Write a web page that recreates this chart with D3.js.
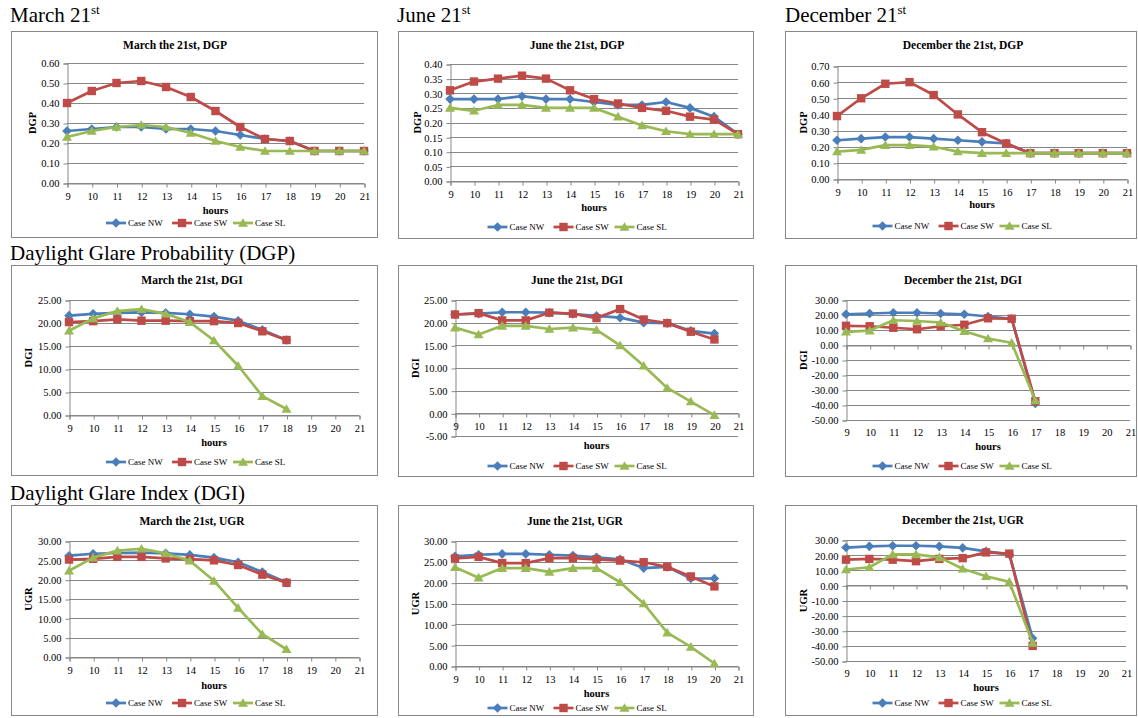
<!DOCTYPE html>
<html lang="en">
<head>
<meta charset="utf-8">
<title>DGP / DGI / UGR</title>
<script src="https://cdn.jsdelivr.net/npm/d3@7"></script>
<style>
  body { margin: 0; background: #fff; }
  svg text { font-family: "Liberation Serif", "Times New Roman", serif; fill: #000; }
</style>
</head>
<body>
<div id="viz"></div>
<script>
// ---- data ----
const hours = [9, 10, 11, 12, 13, 14, 15, 16, 17, 18, 19, 20, 21];
const caseNames = ["Case NW", "Case SW", "Case SL"];

const marchDGP_NW = [0.26, 0.27, 0.28, 0.28, 0.27, 0.27, 0.26, 0.24, 0.22, 0.21, 0.16, 0.16, 0.16];
const marchDGP_SW = [0.40, 0.46, 0.50, 0.51, 0.48, 0.43, 0.36, 0.28, 0.22, 0.21, 0.16, 0.16, 0.16];
const marchDGP_SL = [0.23, 0.26, 0.28, 0.29, 0.28, 0.25, 0.21, 0.18, 0.16, 0.16, 0.16, 0.16, 0.16];

const juneDGP_NW = [0.28, 0.28, 0.28, 0.29, 0.28, 0.28, 0.27, 0.26, 0.26, 0.27, 0.25, 0.22, 0.16];
const juneDGP_SW = [0.31, 0.34, 0.35, 0.36, 0.35, 0.31, 0.28, 0.265, 0.25, 0.24, 0.22, 0.21, 0.16];
const juneDGP_SL = [0.25, 0.24, 0.26, 0.26, 0.25, 0.25, 0.25, 0.22, 0.19, 0.17, 0.16, 0.16, 0.16];

const decDGP_NW = [0.24, 0.25, 0.26, 0.26, 0.25, 0.24, 0.23, 0.22, 0.16, 0.16, 0.16, 0.16, 0.16];
const decDGP_SW = [0.39, 0.50, 0.59, 0.60, 0.52, 0.40, 0.29, 0.22, 0.16, 0.16, 0.16, 0.16, 0.16];
const decDGP_SL = [0.17, 0.18, 0.21, 0.21, 0.20, 0.17, 0.16, 0.16, 0.16, 0.16, 0.16, 0.16, 0.16];

const marchDGI_NW = [21.6, 22.0, 22.2, 22.3, 22.2, 21.9, 21.4, 20.5, 18.5, 16.3];
const marchDGI_SW = [20.2, 20.4, 20.8, 20.5, 20.5, 20.4, 20.4, 20.0, 18.2, 16.3];
const marchDGI_SL = [18.3, 21.0, 22.6, 23.0, 22.0, 20.2, 16.2, 10.7, 4.1, 1.3];

const juneDGI_NW = [21.8, 22.0, 22.3, 22.3, 22.2, 21.9, 21.5, 21.1, 20.0, 19.9, 18.2, 17.6];
const juneDGI_SW = [21.8, 22.1, 20.5, 20.5, 22.2, 22.0, 21.0, 23.0, 20.7, 19.9, 18.0, 16.3];
const juneDGI_SL = [18.9, 17.4, 19.3, 19.3, 18.6, 18.9, 18.4, 15.0, 10.5, 5.6, 2.6, -0.4];

const decDGI_NW = [20.5, 21.0, 21.5, 21.5, 21.0, 20.5, 19.0, 17.5, -39.0];
const decDGI_SW = [12.8, 12.5, 11.5, 10.5, 12.5, 13.5, 17.8, 17.5, -37.5];
const decDGI_SL = [8.8, 9.6, 16.5, 16.0, 15.0, 9.2, 4.3, 1.5, -37.0];

const marchUGR_NW = [26.2, 26.7, 26.9, 27.0, 26.8, 26.4, 25.7, 24.5, 22.0, 19.3];
const marchUGR_SW = [25.2, 25.4, 25.9, 25.9, 25.5, 25.3, 25.0, 23.8, 21.3, 19.2];
const marchUGR_SL = [22.3, 25.7, 27.5, 28.0, 26.8, 24.9, 19.7, 12.7, 5.9, 2.0];

const juneUGR_NW = [26.3, 26.7, 26.9, 26.9, 26.7, 26.5, 26.1, 25.6, 23.5, 23.8, 21.0, 21.0];
const juneUGR_SW = [25.8, 26.2, 24.7, 24.7, 25.9, 25.9, 25.6, 25.3, 24.9, 23.8, 21.5, 19.1];
const juneUGR_SL = [23.7, 21.2, 23.5, 23.5, 22.6, 23.5, 23.5, 20.1, 15.0, 8.0, 4.6, 0.6];

const decUGR_NW = [25.0, 25.8, 26.2, 26.2, 25.8, 24.8, 22.5, 20.5, -35.0];
const decUGR_SW = [17.0, 17.5, 17.0, 16.0, 17.5, 18.0, 21.8, 21.0, -40.0];
const decUGR_SL = [10.5, 12.0, 20.5, 20.5, 18.5, 11.0, 6.0, 2.3, -38.0];

// tick labels
const ticksDGP6 = [0, 0.1, 0.2, 0.3, 0.4, 0.5, 0.6];
const ticksDGP4 = [0, 0.05, 0.1, 0.15, 0.2, 0.25, 0.3, 0.35, 0.4];
const ticksDGP7 = [0, 0.1, 0.2, 0.3, 0.4, 0.5, 0.6, 0.7];
const ticksDGI25 = [0, 5, 10, 15, 20, 25];
const ticksDGI25neg = [-5, 0, 5, 10, 15, 20, 25];
const ticks30 = [0, 5, 10, 15, 20, 25, 30];
const ticks30neg = [-50, -40, -30, -20, -10, 0, 10, 20, 30];

// ---- layout ----
const colors = ["#4A7EBB", "#BE4B48", "#98B954"];
const serif = '"Liberation Serif", "Times New Roman", serif';

// box: [x0,y0,x1,y1]; plot: [left,right,top,bottom]
const panels = [
  {title: "March the 21st, DGP", yLabel: "DGP", data: [marchDGP_NW, marchDGP_SW, marchDGP_SL], ticks: ticksDGP6,
   box: [11, 31, 377, 237], plot: [67, 364, 63, 183], titleX: 175, titleY: 45, yLabX: 32, hoursY: 210, legY: 223, low: false},
  {title: "June the 21st, DGP", yLabel: "DGP", data: [juneDGP_NW, juneDGP_SW, juneDGP_SL], ticks: ticksDGP4,
   box: [398, 31, 753, 238], plot: [450, 738, 64, 181], titleX: 577, titleY: 45, yLabX: 417, hoursY: 207, legY: 227, low: false},
  {title: "December the 21st, DGP", yLabel: "DGP", data: [decDGP_NW, decDGP_SW, decDGP_SL], ticks: ticksDGP7,
   box: [785, 31, 1136, 238], plot: [837, 1127, 66, 179], titleX: 963, titleY: 45, yLabX: 803, hoursY: 204, legY: 226, low: false},
  {title: "March the 21st, DGI", yLabel: "DGI", data: [marchDGI_NW, marchDGI_SW, marchDGI_SL], ticks: ticksDGI25,
   box: [11, 265, 377, 475], plot: [69, 359, 300, 415], titleX: 192, titleY: 280, yLabX: 28, hoursY: 442, legY: 462, low: false},
  {title: "June the 21st, DGI", yLabel: "DGI", data: [juneDGI_NW, juneDGI_SW, juneDGI_SL], ticks: ticksDGI25neg,
   box: [398, 265, 753, 476], plot: [455, 738, 300, 436], titleX: 577, titleY: 280, yLabX: 415, hoursY: 445, legY: 466, low: false},
  {title: "December the 21st, DGI", yLabel: "DGI", data: [decDGI_NW, decDGI_SW, decDGI_SL], ticks: ticks30neg,
   box: [785, 265, 1136, 476], plot: [846, 1130, 300, 420], titleX: 963, titleY: 280, yLabX: 803, hoursY: 446, legY: 466, low: true},
  {title: "March the 21st, UGR", yLabel: "UGR", data: [marchUGR_NW, marchUGR_SW, marchUGR_SL], ticks: ticks30,
   box: [11, 505, 377, 715], plot: [69, 359, 541, 657], titleX: 192, titleY: 521, yLabX: 28, hoursY: 685, legY: 703, low: false},
  {title: "June the 21st, UGR", yLabel: "UGR", data: [juneUGR_NW, juneUGR_SW, juneUGR_SL], ticks: ticks30,
   box: [398, 505, 753, 715], plot: [455, 738, 541, 666], titleX: 575, titleY: 521, yLabX: 415, hoursY: 693, legY: 708, low: false},
  {title: "December the 21st, UGR", yLabel: "UGR", data: [decUGR_NW, decUGR_SW, decUGR_SL], ticks: ticks30neg,
   box: [785, 505, 1136, 715], plot: [846, 1126, 540, 661], titleX: 963, titleY: 520, yLabX: 803, hoursY: 687, legY: 703, low: true}
];

const W = 1138, H = 718;
const svg = d3.select("#viz").append("svg").attr("width", W).attr("height", H);

// section headings
function heading(x, y, main, sup) {
  const t = svg.append("text").attr("x", x).attr("y", y).style("font-size", "21px").text(main);
  if (sup) t.append("tspan").attr("dy", -8).style("font-size", "13px").text(sup);
}
heading(10, 22, "March 21", "st");
heading(397, 22, "June 21", "st");
heading(785, 22, "December 21", "st");
heading(10, 260, "Daylight Glare Probability (DGP)");
heading(10, 500, "Daylight Glare Index (DGI)");

// marker shapes
function marker(sel, i) {
  if (i === 0) sel.append("path").attr("d", "M0,-4.8L4.8,0L0,4.8L-4.8,0Z");
  else if (i === 1) sel.append("path").attr("d", "M-4.2,-4.2H4.2V4.2H-4.2Z");
  else sel.append("path").attr("d", "M0,-4.8L5,3.8H-5Z");
}

const fmt = d => d.toFixed(2);
const gray = "#878787";

function styleAxis(a) {
  a.attr("font-family", null).attr("font-size", null);
  a.selectAll("path, line").attr("stroke", gray);
  a.selectAll("text").style("font-family", serif).style("font-size", "10.5px");
}

panels.forEach(function(p) {
  const g = svg.append("g");
  const [L, R, T, B] = p.plot;

  g.append("rect")
    .attr("x", p.box[0] + 0.5).attr("y", p.box[1] + 0.5)
    .attr("width", p.box[2] - p.box[0]).attr("height", p.box[3] - p.box[1])
    .attr("fill", "#fff").attr("stroke", gray);

  const x = d3.scaleLinear().domain([hours[0], hours[hours.length - 1]]).range([L, R]);
  const y = d3.scaleLinear().domain([p.ticks[0], p.ticks[p.ticks.length - 1]]).range([B, T]);

  // gridlines
  g.selectAll("line.grid").data(p.ticks).join("line")
    .attr("class", "grid")
    .attr("x1", L).attr("x2", R)
    .attr("y1", d => Math.round(y(d)) + 0.5).attr("y2", d => Math.round(y(d)) + 0.5)
    .attr("stroke", gray).attr("stroke-width", 1);

  // y axis
  const ya = g.append("g").attr("transform", `translate(${L + 0.5},0.5)`)
    .call(d3.axisLeft(y).tickValues(p.ticks).tickFormat(fmt).tickSize(4).tickPadding(4));
  styleAxis(ya);

  // x axis at zero
  const y0 = Math.round(y(0)) + 0.5;
  const xa = g.append("g").attr("transform", `translate(0.5,${y0})`)
    .call(d3.axisBottom(x).tickValues(hours).tickFormat(p.low ? "" : d3.format("d")).tickSize(4).tickPadding(5).tickSizeOuter(4));
  styleAxis(xa);

  if (p.low) {
    const xl = g.append("g").attr("transform", `translate(0.5,${Math.round(B) + 0.5})`)
      .call(d3.axisBottom(x).tickValues(hours).tickFormat(d3.format("d")).tickSize(0).tickPadding(8));
    xl.select(".domain").remove();
    styleAxis(xl);
  }

  // title & axis titles
  g.append("text").attr("x", p.titleX).attr("y", p.titleY).attr("text-anchor", "middle")
    .attr("dominant-baseline", "central").style("font-size", "11.5px").style("font-weight", "bold").text(p.title);
  g.append("text").attr("transform", `translate(${p.yLabX},${(T + B) / 2}) rotate(-90)`)
    .attr("text-anchor", "middle").attr("dominant-baseline", "central")
    .style("font-size", "10.5px").style("font-weight", "bold").text(p.yLabel);
  g.append("text").attr("x", (L + R) / 2).attr("y", p.hoursY).attr("text-anchor", "middle")
    .attr("dominant-baseline", "central").style("font-size", "10.5px").style("font-weight", "bold").text("hours");

  // series
  const line = d3.line().x(d => x(d[0])).y(d => y(d[1]));
  p.data.forEach(function(vals, i) {
    const pts = vals.map((v, k) => [hours[k], v]);
    const s = g.append("g");
    s.append("path").attr("d", line(pts)).attr("fill", "none")
      .attr("stroke", colors[i]).attr("stroke-width", 2.7).attr("stroke-linejoin", "round");
    s.selectAll("g.m").data(pts).join("g").attr("class", "m")
      .attr("transform", d => `translate(${x(d[0])},${y(d[1])})`)
      .each(function() { marker(d3.select(this), i); })
      .attr("fill", colors[i]);
  });

  // legend
  const cx = (p.box[0] + p.box[2]) / 2;
  const offs = [-88, -22, 39];
  caseNames.forEach(function(name, i) {
    const lg = g.append("g").attr("transform", `translate(${cx + offs[i]},${p.legY})`);
    lg.append("line").attr("x1", 0).attr("x2", 20).attr("y1", 0).attr("y2", 0)
      .attr("stroke", colors[i]).attr("stroke-width", 2.7);
    const mk = lg.append("g").attr("transform", "translate(10,0)").attr("fill", colors[i]);
    marker(mk, i);
    lg.append("text").attr("x", 22).attr("y", 0).attr("dominant-baseline", "central")
      .style("font-size", "9px").text(name);
  });
});
</script>
</body>
</html>
